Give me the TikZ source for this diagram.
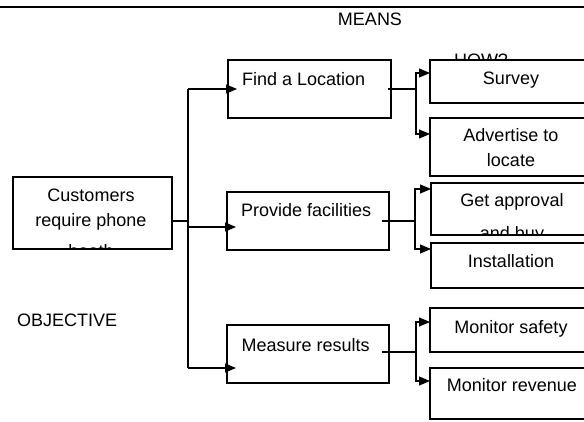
\documentclass[tikz,border=0pt]{standalone}
\usepackage{fontspec}
\setmainfont{Liberation Sans}
\usetikzlibrary{arrows.meta,calc}
\begin{document}
\begin{tikzpicture}[x=1pt,y=-1pt,
  box/.style={draw=black,fill=white,line width=1.1pt,rectangle,inner sep=0pt,outer sep=0pt},
  lbl/.style={inner sep=0pt,anchor=base,font=\fontsize{18}{22}\selectfont},
  lbll/.style={lbl,anchor=base west},
  link/.style={line width=1.1pt},
  arr/.style={link,-{Triangle[length=11pt,width=9pt]}},
]
\clip (0,0) rectangle (584,421);
\fill[white] (0,0) rectangle (584,421);
% top rule
\coordinate (rl) at (0,7);
\coordinate (rr) at (584,7);
\draw[line width=2.2pt] (rl) -- (rr);
% headings
\node[lbl] (means) at (370,25) {MEANS};
\node[lbl] (how) at (481,66) {HOW?};
\node[lbll] (objective) at (17,326) {OBJECTIVE};
% boxes
\node[box,minimum width=159pt,minimum height=72pt] (cust) at (92.5,213) {};
\node[box,minimum width=163pt,minimum height=58pt] (find) at (309.5,89) {};
\node[box,minimum width=162pt,minimum height=58pt] (prov) at (308,221) {};
\node[box,minimum width=162pt,minimum height=58pt] (meas) at (308,354) {};
\node[box,minimum width=170pt,minimum height=43pt] (survey) at (515,81.5) {};
\node[box,minimum width=170pt,minimum height=58pt] (adv) at (515,147) {};
\node[box,minimum width=169pt,minimum height=52pt] (getapp) at (515.5,209) {};
\node[box,minimum width=169pt,minimum height=45pt] (inst) at (515.5,265.5) {};
\node[box,minimum width=170pt,minimum height=44pt] (safety) at (515,330) {};
\node[box,minimum width=170pt,minimum height=51pt] (rev) at (515,393.5) {};
% box texts
\node[lbl] (t1) at (91,201.5) {Customers};
\node[lbl] (t2) at (91,226.5) {require phone};
\begin{scope}
  \clip (13,177) rectangle (172,248.5);
  \node[lbl] (t3) at (91,257) {booth};
\end{scope}
\node[lbll] (t4) at (242,85.7) {Find a Location};
\node[lbll] (t5) at (241,216) {Provide facilities};
\node[lbll] (t6) at (241.5,351.5) {Measure results};
\node[lbl] (t7) at (511,84.3) {Survey};
\node[lbl] (t8) at (511,141.7) {Advertise to};
\node[lbl] (t9) at (511,166.5) {locate};
\node[lbl] (t10) at (512,206.7) {Get approval};
\begin{scope}
  \clip (431,183) rectangle (600,233.5);
  \node[lbl] (t11) at (512,239.6) {and buy};
\end{scope}
\node[lbl] (t12) at (511,267.7) {Installation};
\node[lbl] (t13) at (511,333.3) {Monitor safety};
\node[lbl] (t14) at (512,391.7) {Monitor revenue};
% trunk from objective
\coordinate (tx) at (188,0);
\coordinate (cout) at ($(cust.east)+(0,8)$);
\coordinate (pin) at ($(prov.west)+(0,6)$);
\coordinate (min) at ($(meas.west)+(0,14)$);
\draw[link] (cout) -- (cout -| tx);
\draw[link] (find.west -| tx) -- (min -| tx);
\draw[arr] (find.west -| tx) -- ($(find.west)+(9,0)$);
\draw[arr] (pin -| tx) -- ($(pin)+(9,0)$);
\draw[arr] (min -| tx) -- ($(min)+(9,0)$);
% branch from find
\coordinate (bx1) at (416,0);
\coordinate (fo) at ($(find.east)+(-3,0)$);
\coordinate (s1) at ($(survey.north west)+(0,13)$);
\coordinate (a1) at ($(adv.north west)+(0,16)$);
\draw[link] (fo) -- (fo -| bx1);
\draw[arr] (fo -| bx1) |- (s1);
\draw[arr] (fo -| bx1) |- (a1);
% branch from prov
\coordinate (bx2) at (415,0);
\coordinate (po) at ($(prov.east)+(-7,0)$);
\coordinate (g1) at ($(getapp.north west)+(0,6)$);
\coordinate (i1) at ($(inst.north west)+(0,6)$);
\draw[link] (po) -- (po -| bx2);
\draw[arr] (po -| bx2) |- (g1);
\draw[arr] (po -| bx2) |- (i1);
% branch from meas
\coordinate (bx3) at (416,0);
\coordinate (mo) at ($(meas.east)+(-7,-2)$);
\coordinate (m1) at ($(safety.north west)+(0,14)$);
\coordinate (m2) at ($(rev.north west)+(0,13)$);
\draw[link] (mo) -- (mo -| bx3);
\draw[arr] (mo -| bx3) |- (m1);
\draw[arr] (mo -| bx3) |- (m2);
\end{tikzpicture}
\end{document}
